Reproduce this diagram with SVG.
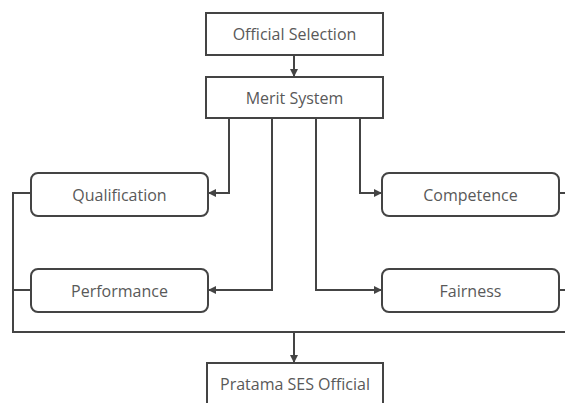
<svg xmlns="http://www.w3.org/2000/svg" width="565" height="403" viewBox="0 0 565 403">
<defs>
<marker id="ah" viewBox="0 0 10 10" refX="10" refY="5" markerWidth="8" markerHeight="8" markerUnits="userSpaceOnUse" orient="auto">
<path d="M0,0 L10,5 L0,10 z" fill="#444"/>
</marker>
<style>
.box{fill:#fff;stroke:#444;stroke-width:2}
.lbl{font-family:"Open Sans","Liberation Sans",sans-serif;font-size:16px;fill:#595959;text-anchor:middle;dominant-baseline:central}
.ln{fill:none;stroke:#444;stroke-width:2}
</style>
</defs>
<rect width="565" height="403" fill="#fff"/>
<g id="connectors">
<path class="ln" d="M294,55 V77" marker-end="url(#ah)"/>
<path class="ln" d="M229,118 V193 H208" marker-end="url(#ah)"/>
<path class="ln" d="M272,118 V290 H208" marker-end="url(#ah)"/>
<path class="ln" d="M360,118 V193 H382" marker-end="url(#ah)"/>
<path class="ln" d="M316,118 V290 H382" marker-end="url(#ah)"/>
<path class="ln" d="M31,193 H13 V332 H566"/>
<path class="ln" d="M31,290 H13"/>
<path class="ln" d="M558,193 H566"/>
<path class="ln" d="M558,290 H566"/>
<path class="ln" d="M294,332 V363" marker-end="url(#ah)"/>
</g>
<g id="official-selection">
<rect class="box" x="206" y="13" width="177" height="42"/>
<text class="lbl" x="294.5" y="34">Official Selection</text>
</g>
<g id="merit-system">
<rect class="box" x="206" y="77" width="177" height="41"/>
<text class="lbl" x="294.5" y="97.5">Merit System</text>
</g>
<g id="qualification">
<rect class="box" x="31" y="173" width="177" height="43" rx="7"/>
<text class="lbl" x="119.5" y="194.5">Qualification</text>
</g>
<g id="performance">
<rect class="box" x="31" y="269" width="177" height="43" rx="7"/>
<text class="lbl" x="119.5" y="290.5">Performance</text>
</g>
<g id="competence">
<rect class="box" x="382" y="173" width="177" height="43" rx="7"/>
<text class="lbl" x="470.5" y="194.5">Competence</text>
</g>
<g id="fairness">
<rect class="box" x="382" y="269" width="177" height="43" rx="7"/>
<text class="lbl" x="470.5" y="290.5">Fairness</text>
</g>
<g id="pratama-ses-official">
<rect class="box" x="207" y="363" width="176" height="50"/>
<text class="lbl" x="295" y="384">Pratama SES Official</text>
</g>
</svg>
